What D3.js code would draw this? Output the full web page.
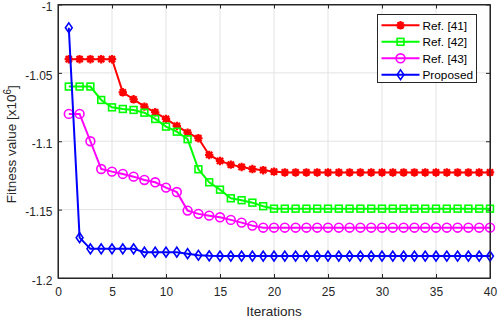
<!DOCTYPE html>
<html>
<head>
<meta charset="utf-8">
<script src="https://cdn.jsdelivr.net/npm/d3@7"></script>
<style>
  body { margin: 0; background: #fff; }
  svg { font-family: "Liberation Sans", Arial, sans-serif; }
</style>
</head>
<body>
<svg id="chart"></svg>
<script>
// iterations 1..40
const iterations = d3.range(1, 41);

const xTicks = [0, 5, 10, 15, 20, 25, 30, 35, 40];
const yTicks = [-1, -1.05, -1.1, -1.15, -1.2];

const ref41 = [
  -1.040, -1.040, -1.040, -1.040, -1.040, -1.0642, -1.0693, -1.0747, -1.0788, -1.0837,
  -1.0888, -1.0937, -1.0978, -1.110, -1.1144, -1.1171, -1.1188, -1.1203, -1.1212, -1.1222,
  -1.1228, -1.1228, -1.1228, -1.1228, -1.1228, -1.1228, -1.1228, -1.1228, -1.1228, -1.1228,
  -1.1228, -1.1228, -1.1228, -1.1228, -1.1228, -1.1228, -1.1228, -1.1228, -1.1228, -1.1228
];
const ref42 = [
  -1.060, -1.060, -1.060, -1.0698, -1.0752, -1.0764, -1.0771, -1.0791, -1.0837, -1.0893,
  -1.0930, -1.0985, -1.1205, -1.1300, -1.1354, -1.1417, -1.1431, -1.1449, -1.1475, -1.1493,
  -1.1493, -1.1493, -1.1493, -1.1493, -1.1493, -1.1493, -1.1493, -1.1493, -1.1493, -1.1493,
  -1.1493, -1.1493, -1.1493, -1.1493, -1.1493, -1.1493, -1.1493, -1.1493, -1.1493, -1.1493
];
const ref43 = [
  -1.080, -1.080, -1.100, -1.1203, -1.1222, -1.1239, -1.1259, -1.1283, -1.1300, -1.1339,
  -1.1371, -1.1507, -1.1531, -1.1544, -1.1556, -1.1575, -1.1595, -1.1617, -1.1632, -1.1632,
  -1.1632, -1.1632, -1.1632, -1.1632, -1.1632, -1.1632, -1.1632, -1.1632, -1.1632, -1.1632,
  -1.1632, -1.1632, -1.1632, -1.1632, -1.1632, -1.1632, -1.1632, -1.1632, -1.1632, -1.1632
];
const proposed = [
  -1.017, -1.1705, -1.1787, -1.1787, -1.1787, -1.1787, -1.1787, -1.1811, -1.1811, -1.1811,
  -1.1811, -1.1822, -1.1834, -1.1838, -1.184, -1.184, -1.184, -1.184, -1.184, -1.184,
  -1.184, -1.184, -1.184, -1.184, -1.184, -1.184, -1.184, -1.184, -1.184, -1.184,
  -1.184, -1.184, -1.184, -1.184, -1.184, -1.184, -1.184, -1.184, -1.184, -1.184
];

const seriesNames = ["Ref. [41]", "Ref. [42]", "Ref. [43]", "Proposed"];
const seriesColors = ["#ff0000", "#00ff00", "#ff00ff", "#0000ff"];
const seriesMarkers = ["star", "square", "circle", "diamond"];
const seriesValues = [ref41, ref42, ref43, proposed];

const W = 498, H = 318;
const margin = {top: 4.5, right: 8, bottom: 40, left: 58};
const width = W - margin.left - margin.right;
const height = H - margin.top - margin.bottom;
const axisColor = "#262626";

const svg = d3.select("#chart").attr("width", W).attr("height", H);
const chart = svg.append("g").attr("transform", `translate(${margin.left},${margin.top})`);

const x = d3.scaleLinear().domain([0, 40]).range([0, width]);
const y = d3.scaleLinear().domain([-1.2, -1]).range([height, 0]);

// grid
chart.append("g").selectAll("line").data(xTicks).join("line")
  .attr("x1", d => x(d)).attr("x2", d => x(d))
  .attr("y1", 0).attr("y2", height)
  .attr("stroke", "#e3e3e3").attr("stroke-width", 1);
chart.append("g").selectAll("line").data(yTicks).join("line")
  .attr("x1", 0).attr("x2", width)
  .attr("y1", d => y(d)).attr("y2", d => y(d))
  .attr("stroke", "#e3e3e3").attr("stroke-width", 1);

// axes (ticks inward, on all four sides)
const tickLen = 4;
const xAxisG = chart.append("g").attr("transform", `translate(0,${height})`)
  .call(d3.axisBottom(x).tickValues(xTicks).tickSizeInner(-tickLen).tickSizeOuter(0).tickPadding(9.5));
const yAxisG = chart.append("g")
  .call(d3.axisLeft(y).tickValues(yTicks).tickSizeInner(-tickLen).tickSizeOuter(0).tickPadding(5.5)
    .tickFormat(d => String(d)));
const xTop = chart.append("g")
  .call(d3.axisTop(x).tickValues(xTicks).tickSizeInner(-tickLen).tickSizeOuter(0).tickFormat(""));
const yRight = chart.append("g").attr("transform", `translate(${width},0)`)
  .call(d3.axisRight(y).tickValues(yTicks).tickSizeInner(-tickLen).tickSizeOuter(0).tickFormat(""));

[xAxisG, yAxisG, xTop, yRight].forEach(g => {
  g.select(".domain").attr("stroke", axisColor);
  g.selectAll(".tick line").attr("stroke", axisColor);
  g.selectAll(".tick text").attr("fill", axisColor).style("font-size", "12px")
    .style("font-family", "'Liberation Sans', Arial, sans-serif");
});
yAxisG.selectAll(".tick text").attr("dy", "0.52em");

// lines
const line = d3.line().x((d, i) => x(iterations[i])).y(d => y(d));

function drawMarker(g, type, color) {
  if (type === "star") {
    g.append("circle").attr("r", 3).attr("fill", color);
    g.append("path")
      .attr("d", "M-4.2,0H4.2M0,-4.2V4.2M-3.1,-3.1L3.1,3.1M-3.1,3.1L3.1,-3.1")
      .attr("stroke", color).attr("stroke-width", 2.2).attr("fill", "none");
  } else if (type === "square") {
    g.append("rect").attr("x", -3.4).attr("y", -3.4).attr("width", 6.8).attr("height", 6.8)
      .attr("fill", "none").attr("stroke", color).attr("stroke-width", 1.6);
  } else if (type === "circle") {
    g.append("circle").attr("r", 4.4)
      .attr("fill", "none").attr("stroke", color).attr("stroke-width", 1.6);
  } else if (type === "diamond") {
    g.append("path").attr("d", "M0,-4.9L3.4,0L0,4.9L-3.4,0Z")
      .attr("fill", "none").attr("stroke", color).attr("stroke-width", 1.6);
  }
}

seriesValues.forEach((vals, s) => {
  const color = seriesColors[s];
  chart.append("path").datum(vals)
    .attr("d", line)
    .attr("fill", "none").attr("stroke", color).attr("stroke-width", 2);
  chart.append("g").selectAll("g").data(vals).join("g")
    .attr("transform", (d, i) => `translate(${x(iterations[i])},${y(d)})`)
    .each(function() { drawMarker(d3.select(this), seriesMarkers[s], color); });
});

// box on top
chart.append("rect").attr("width", width).attr("height", height)
  .attr("fill", "none").attr("stroke", axisColor).attr("stroke-width", 1);

// legend
const legend = svg.append("g").attr("transform", "translate(377.5,14.5)");
legend.append("rect").attr("width", 99).attr("height", 68)
  .attr("fill", "#fff").attr("stroke", axisColor).attr("stroke-width", 1);
seriesNames.forEach((name, i) => {
  const ly = 10.8 + i * 16.5;
  legend.append("line").attr("x1", 4).attr("x2", 42).attr("y1", ly).attr("y2", ly)
    .attr("stroke", seriesColors[i]).attr("stroke-width", 2);
  const mg = legend.append("g").attr("transform", `translate(23,${ly})`);
  drawMarker(mg, seriesMarkers[i], seriesColors[i]);
  legend.append("text").attr("x", 45).attr("y", ly).attr("dy", "0.36em")
    .style("font-size", "11.8px").attr("fill", "#000").text(name);
});

// axis labels
svg.append("text")
  .attr("x", margin.left + width / 2).attr("y", 315.5)
  .attr("text-anchor", "middle").style("font-size", "13.5px").attr("fill", axisColor)
  .text("Iterations");

const yl = svg.append("text")
  .attr("transform", `translate(15.5,${margin.top + height / 2 + 3}) rotate(-90)`)
  .attr("text-anchor", "middle").style("font-size", "13.5px").attr("fill", axisColor);
yl.append("tspan").text("Fitness value [x10");
yl.append("tspan").attr("dy", "-0.45em").style("font-size", "10px").text("6");
yl.append("tspan").attr("dy", "0.45em").text("]");
</script>
</body>
</html>
